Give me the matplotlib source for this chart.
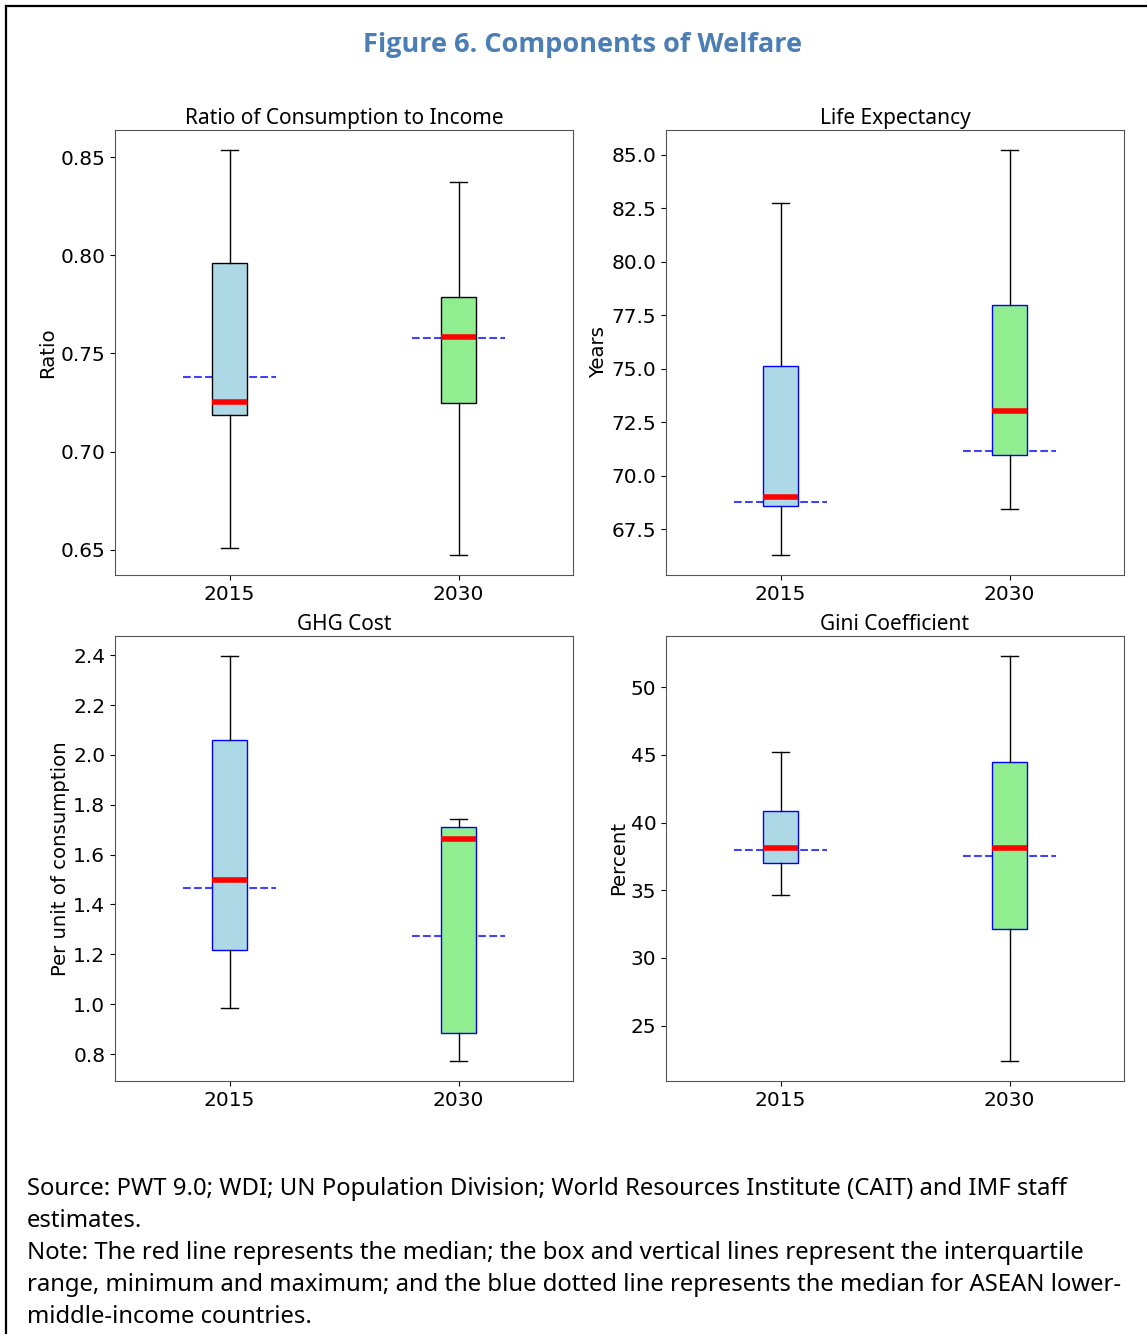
import matplotlib
matplotlib.use("Agg")
import matplotlib.pyplot as plt
from matplotlib.lines import Line2D

# -----------------------------
# 1. Data
# -----------------------------
years = ["2015", "2030"]

panel_titles = ["Ratio of Consumption to Income", "Life Expectancy",
                "GHG Cost", "Gini Coefficient"]
panel_ylabels = ["Ratio", "Years", "Per unit of consumption", "Percent"]

# ratio of consumption to income
cons_min = [0.651, 0.6474]
cons_q1 = [0.7184, 0.725]
cons_med = [0.7255, 0.7582]
cons_q3 = [0.796, 0.7786]
cons_max = [0.8536, 0.8372]
cons_asean = [0.7378, 0.758]

# life expectancy (years)
life_min = [66.31, 68.44]
life_q1 = [68.60, 70.95]
life_med = [69.02, 73.04]
life_q3 = [75.14, 77.99]
life_max = [82.72, 85.2]
life_asean = [68.79, 71.16]

# GHG cost (per unit of consumption)
ghg_min = [0.985, 0.773]
ghg_q1 = [1.218, 0.884]
ghg_med = [1.497, 1.662]
ghg_q3 = [2.061, 1.710]
ghg_max = [2.396, 1.742]
ghg_asean = [1.467, 1.274]

# Gini coefficient (percent)
gini_min = [34.67, 22.4]
gini_q1 = [37.02, 32.12]
gini_med = [38.11, 38.11]
gini_q3 = [40.88, 44.46]
gini_max = [45.2, 52.3]
gini_asean = [37.98, 37.56]

source_lines = [
    "Source: PWT 9.0; WDI; UN Population Division; World Resources Institute (CAIT) and IMF staff",
    "estimates.",
    "Note: The red line represents the median; the box and vertical lines represent the interquartile",
    "range, minimum and maximum; and the blue dotted line represents the median for ASEAN lower-",
    "middle-income countries.",
]

panels = [
    (cons_min, cons_q1, cons_med, cons_q3, cons_max, cons_asean),
    (life_min, life_q1, life_med, life_q3, life_max, life_asean),
    (ghg_min, ghg_q1, ghg_med, ghg_q3, ghg_max, ghg_asean),
    (gini_min, gini_q1, gini_med, gini_q3, gini_max, gini_asean),
]
box_edge = ["black", "blue", "blue", "blue"]
box_fill = ["lightblue", "lightgreen"]

# -----------------------------
# 2. Figure layout
# -----------------------------
W, H = 1147, 1334
fig = plt.figure(figsize=(W / 100, H / 100), dpi=100)
fig.patch.set_facecolor("white")

ax_w, ax_h = 458 / W, 445 / H
lefts = [115 / W, 666 / W]
bottoms = [1 - 575 / H, 1 - 1081 / H]

for i, (lo, q1, med, q3, hi, asean) in enumerate(panels):
    ax = fig.add_axes([lefts[i % 2], bottoms[i // 2], ax_w, ax_h])
    stats = []
    for j in range(len(years)):
        stats.append({"whislo": lo[j], "q1": q1[j], "med": med[j],
                      "q3": q3[j], "whishi": hi[j], "label": years[j]})
    bp = ax.bxp(stats, positions=[1, 2], widths=0.15, patch_artist=True,
                showfliers=False,
                boxprops=dict(edgecolor=box_edge[i], linewidth=1.0),
                whiskerprops=dict(color="black", linewidth=1.0),
                capprops=dict(color="black", linewidth=1.0),
                medianprops=dict(color="red", linewidth=4))
    for patch, c in zip(bp["boxes"], box_fill):
        patch.set_facecolor(c)
        patch.set_zorder(2)
    for m in bp["medians"]:
        m.set_zorder(3)
    # ASEAN lower-middle-income median
    for j, v in enumerate(asean):
        ax.hlines(v, j + 1 - 0.205, j + 1 + 0.205, colors="blue", alpha=0.75,
                  linestyles="--", linewidth=1.5, zorder=1.5)
    ax.set_xlim(0.5, 2.5)
    ax.set_title(panel_titles[i], fontsize=15, family="Noto Sans", pad=4.5)
    ax.set_ylabel(panel_ylabels[i], fontsize=14.2, labelpad=2)
    ax.tick_params(labelsize=14.5)
    for s in ax.spines.values():
        s.set_color("#555555")

# -----------------------------
# 3. Title, notes and frame
# -----------------------------
fig.text(583 / W, 1 - 45 / H, "Figure 6. Components of Welfare",
         ha="center", va="center", fontsize=19.5, fontweight="bold",
         color="#4A7EB4", family="Open Sans")

line_y = [1189, 1221, 1253, 1285, 1317]
for txt, y in zip(source_lines, line_y):
    fig.text(27 / W, 1 - y / H, txt, ha="left", va="center",
             fontsize=17.2, family="Noto Sans", color="black")

fig.add_artist(Line2D([6 / W, 1], [1 - 6 / H, 1 - 6 / H],
                      color="black", linewidth=1.6))
fig.add_artist(Line2D([6 / W, 6 / W], [0, 1 - 6 / H],
                      color="black", linewidth=1.6))

fig.savefig("out.png", dpi=100)
plt.close(fig)
